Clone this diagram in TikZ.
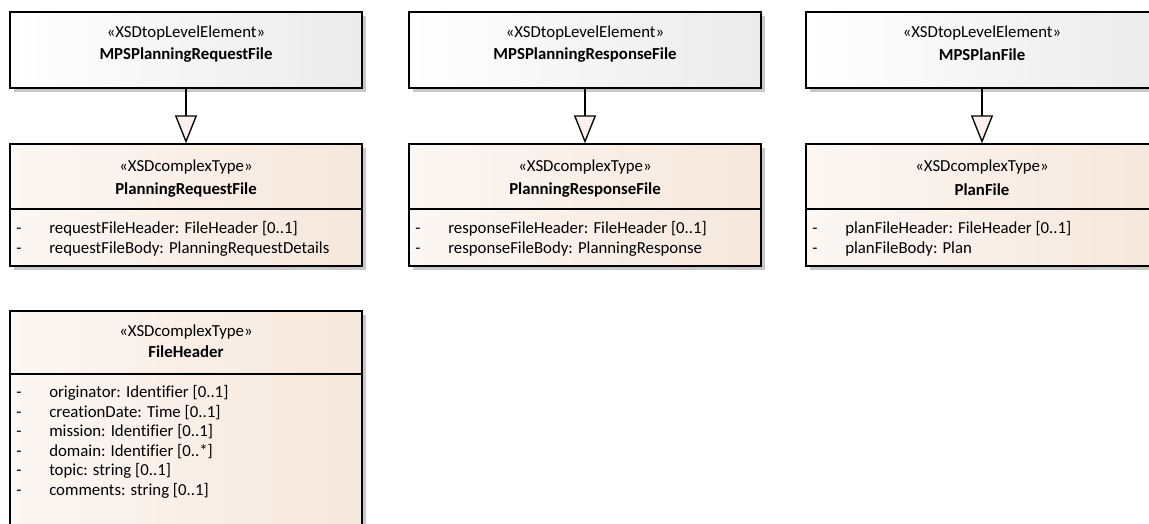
\documentclass[tikz,border=0pt]{standalone}
\usepackage{fontspec}
\setmainfont[Ligatures=NoCommon]{Carlito}
\usetikzlibrary{arrows.meta,shadows}

\definecolor{elemleft}{HTML}{FFFFFF}
\definecolor{elemright}{HTML}{EBEBEB}
\definecolor{typeleft}{HTML}{FCF7F3}
\definecolor{typeright}{HTML}{F5E7DC}
\definecolor{shadowgray}{HTML}{C8C8C8}
\definecolor{tipfill}{HTML}{FBF0EE}

\tikzset{
  umlbox/.style={draw, line width=1pt, minimum width=264pt, inner sep=0pt,
    drop shadow={shadow xshift=3pt, shadow yshift=-3pt, fill=shadowgray, opacity=1}},
  elembox/.style={umlbox, minimum height=57pt, left color=elemleft, right color=elemright},
  typebox/.style={umlbox, minimum height=91.5pt, left color=typeleft, right color=typeright},
  stereo/.style={inner sep=0pt, font=\fontsize{12.6}{14}\selectfont},
  clsname/.style={inner sep=0pt, font=\fontsize{12.6}{14}\selectfont\bfseries},
  attr/.style={anchor=west, inner sep=0pt, font=\fontsize{12.6}{14}\selectfont},
  gen/.style={-{Triangle[length=21pt, width=16.5pt, fill=tipfill]}, line width=1pt},
}
\newcommand{\attrline}[1]{\makebox[24.75pt][l]{-}#1}

\begin{document}
\begin{tikzpicture}[x=0.75pt, y=-0.75pt]
    \clip (0,0) rectangle (1149,524);
    \fill[white] (0,0) rectangle (1149,524);

    % top level elements
    \node[elembox] (mpsreq) at (186,50) {};
    \node[elembox] (mpsresp) at (585,50) {};
    \node[elembox] (mpsplan) at (982,50) {};
    \node[stereo] (mpsreqst) at (186,33) {«XSDtopLevelElement»};
    \node[clsname] (mpsreqnm) at (186,55) {MPSPlanningRequestFile};
    \node[stereo] (mpsrespst) at (585,33) {«XSDtopLevelElement»};
    \node[clsname] (mpsrespnm) at (585,55) {MPSPlanningResponseFile};
    \node[stereo] (mpsplanst) at (982,33) {«XSDtopLevelElement»};
    \node[clsname] (mpsplannm) at (982,55) {MPSPlanFile};

    % complex types
    \node[typebox] (planreq) at (186,205) {};
    \node[typebox] (planresp) at (585,205) {};
    \node[typebox] (plan) at (982,205) {};
    \draw[line width=1pt] (10,209) -- (362,209);
    \draw[line width=1pt] (409,209) -- (761,209);
    \draw[line width=1pt] (806,209) -- (1158,209);

    \node[stereo] (planreqst) at (186,167) {«XSDcomplexType»};
    \node[clsname] (planreqnm) at (186,190) {PlanningRequestFile};
    \node[attr] (planreqa) at (16,229) {\attrline{requestFileHeader: FileHeader [0..1]}};
    \node[attr] (planreqb) at (16,249) {\attrline{requestFileBody: PlanningRequestDetails}};

    \node[stereo] (planrespst) at (585,167) {«XSDcomplexType»};
    \node[clsname] (planrespnm) at (585,190) {PlanningResponseFile};
    \node[attr] (planrespa) at (415,229) {\attrline{responseFileHeader: FileHeader [0..1]}};
    \node[attr] (planrespb) at (415,249) {\attrline{responseFileBody: PlanningResponse}};

    \node[stereo] (planst) at (982,167) {«XSDcomplexType»};
    \node[clsname] (plannm) at (982,190) {PlanFile};
    \node[attr] (plana) at (812,229) {\attrline{planFileHeader: FileHeader [0..1]}};
    \node[attr] (planb) at (812,249) {\attrline{planFileBody: Plan}};

    % file header
    \node[umlbox, minimum height=171.75pt, left color=typeleft, right color=typeright]
      (fhdr) at (186,425.5) {};
    \draw[line width=1pt] (10,374) -- (362,374);
    \node[stereo] (fhdrst) at (186,332) {«XSDcomplexType»};
    \node[clsname] (fhdrnm) at (186,352) {FileHeader};
    \node[attr] (fhdra) at (16,393) {\attrline{originator: Identifier [0..1]}};
    \node[attr] (fhdrb) at (16,412.5) {\attrline{creationDate: Time [0..1]}};
    \node[attr] (fhdrc) at (16,432) {\attrline{mission: Identifier [0..1]}};
    \node[attr] (fhdrd) at (16,451.5) {\attrline{domain: Identifier [0..*]}};
    \node[attr] (fhdre) at (16,471) {\attrline{topic: string [0..1]}};
    \node[attr] (fhdrf) at (16,490.5) {\attrline{comments: string [0..1]}};

    % generalizations
    \draw[gen] (mpsreq) -- (planreq);
    \draw[gen] (mpsresp) -- (planresp);
    \draw[gen] (mpsplan) -- (plan);
\end{tikzpicture}
\end{document}
